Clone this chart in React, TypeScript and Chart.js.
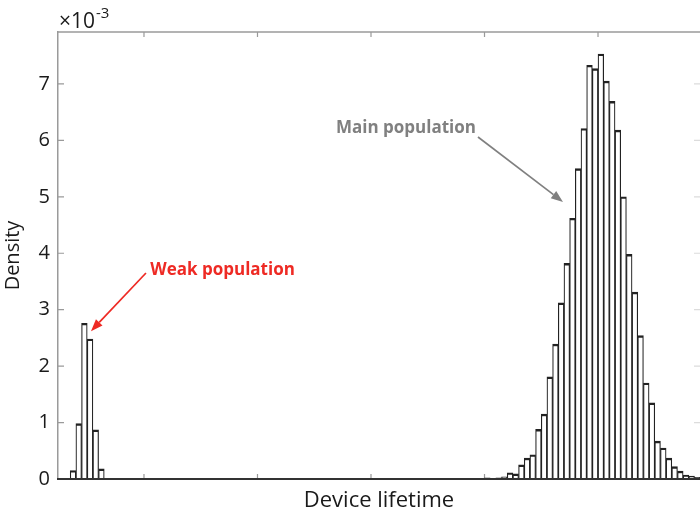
import { useEffect, useRef } from "react";
import { Chart, registerables } from "chart.js";

Chart.register(...registerables);

// Unit-width histogram bins on the lifetime axis; density values are in units of 1e-3.
const weakBinStart = 7;
const weakDensity = [0.15, 0.98, 2.76, 2.48, 0.87, 0.18];

const mainBinStart = 80;
const mainDensity = [
  0.02, 0.01, 0.02, 0.04, 0.11, 0.09, 0.25, 0.37, 0.43, 0.88,
  1.15, 1.81, 2.39, 3.12, 3.82, 4.62, 5.5, 6.21, 7.33, 7.27,
  7.53, 7.05, 6.69, 6.18, 5.0, 3.98, 3.31, 2.54, 1.7, 1.35,
  0.67, 0.55, 0.37, 0.22, 0.14, 0.07, 0.05, 0.03,
];

// Axis ranges and tick positions
const xRange = [4.85, 117.97];
const xTickValues = [20, 40, 60, 80, 100];
const yRange = [0, 7.92];
const yTickValues = [0, 1, 2, 3, 4, 5, 6, 7];

// Annotation text and arrows, in data coordinates
const weakNote = { text: "Weak population", x: 21.1, y: 3.7, from: [20.35, 3.65], to: [10.66, 2.62] };
const mainNote = { text: "Main population", x: 78.5, y: 6.22, from: [78.85, 6.06], to: [93.83, 4.91] };

const FONT = "'Open Sans', Lato, 'DejaVu Sans', sans-serif";
const AXIS_GRAY = "#9a9a9a";
const TEXT_COLOR = "#1a1a1a";

const toBars = (start: number, values: number[]) =>
  values.map((v, i) => ({ x: start + i + 0.5, y: v }));

function drawArrow(
  ctx: CanvasRenderingContext2D,
  x0: number, y0: number, x1: number, y1: number, color: string
) {
  const ang = Math.atan2(y1 - y0, x1 - x0);
  const headLen = 12;
  const headHalf = 4.5;
  const bx = x1 - headLen * Math.cos(ang);
  const by = y1 - headLen * Math.sin(ang);
  ctx.save();
  ctx.strokeStyle = color;
  ctx.fillStyle = color;
  ctx.lineWidth = 1.7;
  ctx.beginPath();
  ctx.moveTo(x0, y0);
  ctx.lineTo(bx, by);
  ctx.stroke();
  ctx.beginPath();
  ctx.moveTo(x1, y1);
  ctx.lineTo(bx + headHalf * Math.sin(ang), by - headHalf * Math.cos(ang));
  ctx.lineTo(bx - headHalf * Math.sin(ang), by + headHalf * Math.cos(ang));
  ctx.closePath();
  ctx.fill();
  ctx.restore();
}

// Inward tick marks on the box (drawn under the bars), box top edge and annotations
const boxTicks = {
  id: "boxTicks",
  beforeDatasetsDraw(chart: any) {
    const { ctx, chartArea, scales } = chart;
    const { left, right, top, bottom } = chartArea;
    ctx.save();
    ctx.strokeStyle = AXIS_GRAY;
    ctx.lineWidth = 1.2;
    ctx.beginPath();
    for (const v of xTickValues) {
      const px = scales.x.getPixelForValue(v);
      ctx.moveTo(px, bottom);
      ctx.lineTo(px, bottom - 5);
      ctx.moveTo(px, top);
      ctx.lineTo(px, top + 5);
    }
    for (const v of yTickValues) {
      const py = scales.y.getPixelForValue(v);
      ctx.moveTo(left, py);
      ctx.lineTo(left + 6, py);
    }
    ctx.stroke();
    ctx.strokeStyle = "#dcdcdc";
    ctx.beginPath();
    for (const v of yTickValues.slice(1)) {
      const py = scales.y.getPixelForValue(v);
      ctx.moveTo(right - 6, py);
      ctx.lineTo(right, py);
    }
    ctx.stroke();
    ctx.restore();
  },
  afterDraw(chart: any) {
    const { ctx, chartArea, scales } = chart;
    const { left, right, top } = chartArea;
    ctx.save();
    ctx.strokeStyle = AXIS_GRAY;
    ctx.lineWidth = 1.5;
    ctx.beginPath();
    ctx.moveTo(left - 0.75, top);
    ctx.lineTo(right, top);
    ctx.stroke();

    // exponent label
    ctx.fillStyle = TEXT_COLOR;
    ctx.textBaseline = "alphabetic";
    ctx.textAlign = "left";
    ctx.font = `21px ${FONT}`;
    ctx.fillText("\u00d710", left + 1, top - 4);
    const w = ctx.measureText("\u00d710").width;
    ctx.font = `15px ${FONT}`;
    ctx.fillText("-3", left + 1 + w + 1, top - 14);

    const notes = [
      { ...weakNote, color: "#ee2a24", align: "left" as CanvasTextAlign },
      { ...mainNote, color: "#808080", align: "right" as CanvasTextAlign },
    ];
    for (const n of notes) {
      const fx = scales.x.getPixelForValue(n.from[0]);
      const fy = scales.y.getPixelForValue(n.from[1]);
      const tx = scales.x.getPixelForValue(n.to[0]);
      const ty = scales.y.getPixelForValue(n.to[1]);
      drawArrow(ctx, fx, fy, tx, ty, n.color);
      ctx.fillStyle = n.color;
      ctx.font = `bold 17px ${FONT}`;
      ctx.textAlign = n.align;
      ctx.textBaseline = "middle";
      ctx.fillText(n.text, scales.x.getPixelForValue(n.x), scales.y.getPixelForValue(n.y));
    }
    ctx.restore();
  },
};

export default function App() {
  const ref = useRef<HTMLCanvasElement>(null);

  useEffect(() => {
    const canvas = ref.current;
    if (!canvas) return;
    const chart = new Chart(canvas, {
      type: "bar",
      data: {
        datasets: [
          {
            data: [...toBars(weakBinStart, weakDensity), ...toBars(mainBinStart, mainDensity)],
            backgroundColor: "#ffffff",
            borderColor: "#222222",
            borderWidth: { top: 2.4, left: 1.2, right: 1.2, bottom: 0 },
            borderSkipped: false,
            barPercentage: 1,
            categoryPercentage: 1,
          } as any,
        ],
      },
      options: {
        responsive: false,
        animation: false,
        layout: { padding: { top: 32, left: 0, right: 0, bottom: 0 } },
        plugins: { legend: { display: false }, tooltip: { enabled: false } },
        scales: {
          x: {
            type: "linear",
            min: xRange[0],
            max: xRange[1],
            offset: false,
            grid: { display: false, drawTicks: false, offset: false },
            border: { display: true, color: "#333333", width: 2, z: 1 },
            ticks: { display: false },
            title: {
              display: true,
              text: "Device lifetime",
              color: TEXT_COLOR,
              font: { family: FONT, size: 22 },
              padding: { top: 0, bottom: 3 },
            },
            afterFit: (s: any) => {
              s.height = 38;
            },
          },
          y: {
            min: yRange[0],
            max: yRange[1],
            grid: { display: false, drawTicks: false },
            border: { display: true, color: AXIS_GRAY, width: 1.5 },
            ticks: {
              stepSize: 1,
              includeBounds: false,
              padding: 8,
              color: TEXT_COLOR,
              font: { family: FONT, size: 20 },
            },
            title: {
              display: true,
              text: "Density",
              color: TEXT_COLOR,
              font: { family: FONT, size: 20 },
              padding: { top: 1, bottom: 0 },
            },
            afterFit: (s: any) => {
              s.width = 58;
            },
          },
        },
      } as any,
      plugins: [boxTicks],
    });
    return () => chart.destroy();
  }, []);

  return (
    <div style={{ position: "fixed", left: 0, top: 0, width: 700, height: 517, background: "#fff" }}>
      <canvas ref={ref} width={700} height={517} style={{ display: "block", width: 700, height: 517 }} />
    </div>
  );
}
